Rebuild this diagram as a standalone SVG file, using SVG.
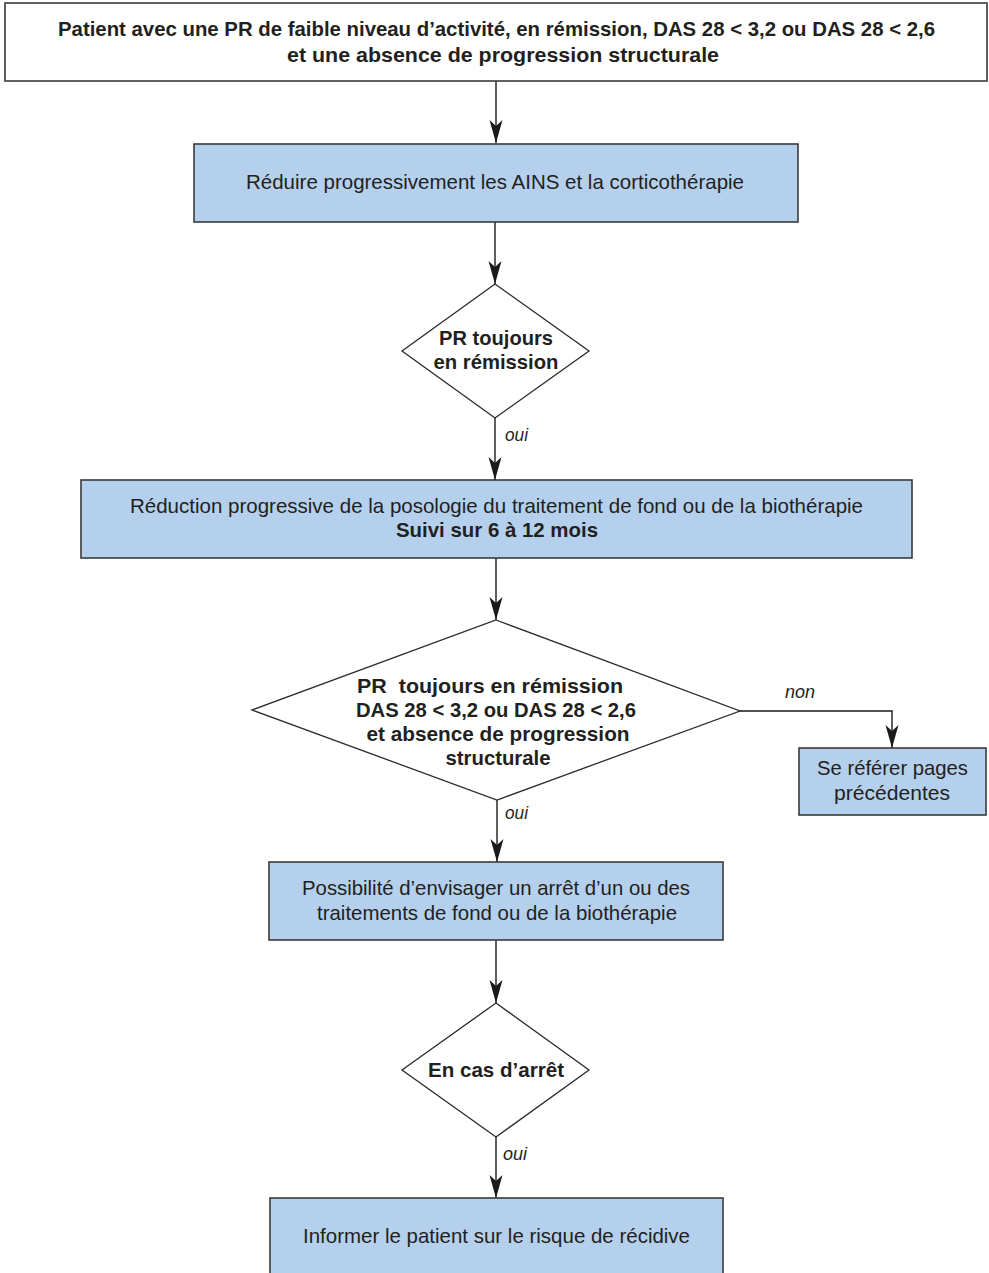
<svg xmlns="http://www.w3.org/2000/svg" width="989" height="1273" viewBox="0 0 989 1273">
<style>
.box{fill:#b4d0ec;stroke:#3a3a3a;stroke-width:1.6}
.wbox{fill:#ffffff;stroke:#3a3a3a;stroke-width:1.6}
.dia{fill:#ffffff;stroke:#2a2a2a;stroke-width:1.3}
.t{font-family:"Liberation Sans",Arial,sans-serif;font-size:21px;fill:#231f20;text-anchor:middle}
.b{font-weight:bold}
.lbl{font-family:"Liberation Sans",Arial,sans-serif;font-size:18px;font-style:italic;fill:#231f20}
.c{fill:none;stroke:#1a1a1a;stroke-width:1.4}
</style>
<defs>
<marker id="ah" markerUnits="userSpaceOnUse" markerWidth="24" markerHeight="14" refX="23" refY="7" orient="auto" viewBox="0 0 24 14">
<path d="M0,0.5 L23,7 L0,13.5 L6,7 z" fill="#1a1a1a"/>
</marker>
</defs>
<rect width="989" height="1273" fill="#ffffff"/>
<g id="connectors">
<path class="c" d="M496,81 V143" marker-end="url(#ah)"/>
<path class="c" d="M495,222 V284" marker-end="url(#ah)"/>
<path class="c" d="M495,418 V480" marker-end="url(#ah)"/>
<path class="c" d="M496,558 V620" marker-end="url(#ah)"/>
<path class="c" d="M740,711 H892 V748" marker-end="url(#ah)"/>
<path class="c" d="M497,800 V862" marker-end="url(#ah)"/>
<path class="c" d="M496,940 V1003" marker-end="url(#ah)"/>
<path class="c" d="M496,1137 V1198" marker-end="url(#ah)"/>
<text class="lbl" x="505" y="441" textLength="23" lengthAdjust="spacingAndGlyphs">oui</text>
<text class="lbl" x="785" y="698" textLength="30" lengthAdjust="spacingAndGlyphs">non</text>
<text class="lbl" x="505" y="819" textLength="23" lengthAdjust="spacingAndGlyphs">oui</text>
<text class="lbl" x="503" y="1160" textLength="24" lengthAdjust="spacingAndGlyphs">oui</text>
</g>
<g id="n1">
<rect class="wbox" x="5" y="3" width="982" height="78"/>
<text class="t b" x="496.5" y="36" font-size="22" textLength="877" lengthAdjust="spacingAndGlyphs">Patient avec une PR de faible niveau d’activité, en rémission, DAS 28 &lt; 3,2 ou DAS 28 &lt; 2,6</text>
<text class="t b" x="503" y="62" font-size="22" textLength="432" lengthAdjust="spacingAndGlyphs">et une absence de progression structurale</text>
</g>
<g id="n2">
<rect class="box" x="194" y="144" width="604" height="78"/>
<text class="t" x="495" y="189" textLength="498" lengthAdjust="spacingAndGlyphs">Réduire progressivement les AINS et la corticothérapie</text>
</g>
<g id="n3">
<polygon class="dia" points="495,284 589,351 495,418 402,351"/>
<text class="t b" x="496" y="345" textLength="114" lengthAdjust="spacingAndGlyphs">PR toujours</text>
<text class="t b" x="496" y="369" textLength="125" lengthAdjust="spacingAndGlyphs">en rémission</text>
</g>
<g id="n4">
<rect class="box" x="81" y="480" width="831" height="78"/>
<text class="t" x="496.5" y="513" textLength="733" lengthAdjust="spacingAndGlyphs">Réduction progressive de la posologie du traitement de fond ou de la biothérapie</text>
<text class="t b" x="497" y="537" textLength="202" lengthAdjust="spacingAndGlyphs">Suivi sur 6 à 12 mois</text>
</g>
<g id="n5">
<polygon class="dia" points="496,620 740,711 497,800 252,710"/>
<text class="t b" x="490" y="693" textLength="266" lengthAdjust="spacingAndGlyphs" xml:space="preserve">PR  toujours en rémission</text>
<text class="t b" x="496" y="717" textLength="280" lengthAdjust="spacingAndGlyphs">DAS 28 &lt; 3,2 ou DAS 28 &lt; 2,6</text>
<text class="t b" x="498" y="741" textLength="263" lengthAdjust="spacingAndGlyphs">et absence de progression</text>
<text class="t b" x="498" y="765" textLength="105" lengthAdjust="spacingAndGlyphs">structurale</text>
</g>
<g id="n6">
<rect class="box" x="799" y="748" width="187" height="67"/>
<text class="t" x="892.5" y="775" textLength="151" lengthAdjust="spacingAndGlyphs">Se référer pages</text>
<text class="t" x="892" y="800" textLength="116" lengthAdjust="spacingAndGlyphs">précédentes</text>
</g>
<g id="n7">
<rect class="box" x="269" y="862" width="454" height="78"/>
<text class="t" x="496" y="895" textLength="388" lengthAdjust="spacingAndGlyphs">Possibilité d’envisager un arrêt d’un ou des</text>
<text class="t" x="497" y="920" textLength="360" lengthAdjust="spacingAndGlyphs">traitements de fond ou de la biothérapie</text>
</g>
<g id="n8">
<polygon class="dia" points="496,1003 589,1070 496,1137 402,1070"/>
<text class="t b" x="496" y="1077" textLength="136" lengthAdjust="spacingAndGlyphs">En cas d’arrêt</text>
</g>
<g id="n9">
<rect class="box" x="270" y="1198" width="453" height="90"/>
<text class="t" x="496.5" y="1243" textLength="387" lengthAdjust="spacingAndGlyphs">Informer le patient sur le risque de récidive</text>
</g>
</svg>
